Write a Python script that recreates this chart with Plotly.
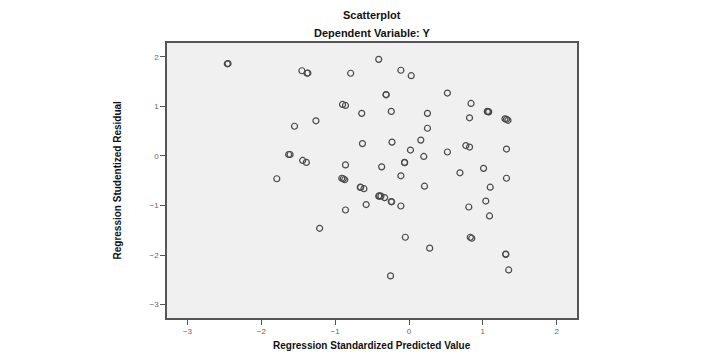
import plotly.graph_objects as go

# Regression standardized predicted value (x) and studentized residual (y)
pred_x = [
    -2.46, -2.45, -1.45, -1.38, -1.37, -0.79, -0.41, -0.90, -0.86, -0.64,
    -1.26, -1.55, -0.63, -1.63, -1.61, -1.44, -1.39, -0.86, -0.37, -1.79,
    -0.91, -0.89, -0.87, -0.11, 0.03, -0.31, -0.31, 0.52, 0.84, 1.06,
    1.07, 1.08, 1.30, 1.32, 1.34, -0.24, 0.25, 0.82, 0.25, -0.23,
    0.16, 0.77, 0.82, 1.32, 0.02, 0.52, 0.20, -0.06, -0.06, -0.11,
    0.69, 1.01, 1.32, -0.66, -0.655, -0.61, -0.41, -0.40, -0.38, -0.33,
    -0.24, -0.235, -0.11, -0.58, -0.86, -1.21, 0.21, 1.10, 0.81, 1.04,
    1.09, -0.05, 0.83, 0.85, 0.28, 1.31, 1.31, 1.35, -0.25,
]
resid_y = [
    1.86, 1.865, 1.72, 1.67, 1.675, 1.67, 1.95, 1.04, 1.02, 0.86,
    0.71, 0.60, 0.25, 0.03, 0.03, -0.09, -0.13, -0.18, -0.22, -0.46,
    -0.45, -0.46, -0.48, 1.73, 1.62, 1.24, 1.235, 1.27, 1.06, 0.90,
    0.895, 0.89, 0.75, 0.74, 0.72, 0.90, 0.86, 0.77, 0.56, 0.28,
    0.32, 0.21, 0.18, 0.14, 0.12, 0.08, -0.01, -0.13, -0.135, -0.40,
    -0.34, -0.25, -0.45, -0.63, -0.635, -0.66, -0.81, -0.805, -0.81, -0.84,
    -0.92, -0.925, -1.01, -0.98, -1.09, -1.46, -0.61, -0.63, -1.03, -0.91,
    -1.21, -1.64, -1.64, -1.66, -1.86, -1.98, -1.985, -2.30, -2.42,
]

x_ticks = [-3, -2, -1, 0, 1, 2]
y_ticks = [-3, -2, -1, 0, 1, 2]

fig = go.Figure(
    go.Scatter(
        x=pred_x, y=resid_y, mode="markers",
        marker=dict(symbol="circle-open", size=6, color="#4a4a4a",
                    line=dict(width=1.2, color="#4a4a4a")),
        hoverinfo="x+y",
    )
)

fnt = "Liberation Sans, Arial, sans-serif"
axis_common = dict(
    showgrid=False, zeroline=False, showline=True, linecolor="#555555",
    linewidth=1.5, mirror=True, ticks="outside", ticklen=5, tickwidth=1,
    tickcolor="#555555", tickfont=dict(family=fnt, size=8, color="#666666"),
)
fig.update_xaxes(range=[-3.277, 2.275], tickvals=x_ticks, **axis_common)
fig.update_yaxes(range=[-3.27, 2.28], tickvals=y_ticks, **axis_common)

# page body adds an 8px offset, so margins are compensated
ml, mr, mt, mb = 159, 151, 35, 52
fig.update_layout(
    width=720, height=362,
    margin=dict(l=ml, r=mr, t=mt, b=mb),
    paper_bgcolor="white", plot_bgcolor="#f0f0f0",
    showlegend=False,
    font=dict(family=fnt, color="#111111"),
)
plot_h = 362 - mt - mb
plot_w = 720 - ml - mr
fig.update_layout(annotations=[
    dict(text="<b>Scatterplot</b>", x=0.5, y=1 + 36 / plot_h, yanchor="top",
         xref="paper", yref="paper", showarrow=False,
         font=dict(size=11, family=fnt)),
    dict(text="<b>Dependent Variable: Y</b>", x=0.5, y=1 + 10 / plot_h,
         yanchor="middle", xref="paper", yref="paper", showarrow=False,
         font=dict(size=11, family=fnt)),
    dict(text="<b>Regression Standardized Predicted Value</b>", x=0.5,
         y=-27 / plot_h, yanchor="middle", xref="paper", yref="paper",
         showarrow=False, font=dict(size=10, family=fnt)),
    dict(text="<b>Regression Studentized Residual</b>", x=-50 / plot_w,
         xanchor="center", y=0.5, xref="paper", yref="paper",
         showarrow=False, textangle=-90, font=dict(size=10, family=fnt)),
])

fig.write_html("out.html")
